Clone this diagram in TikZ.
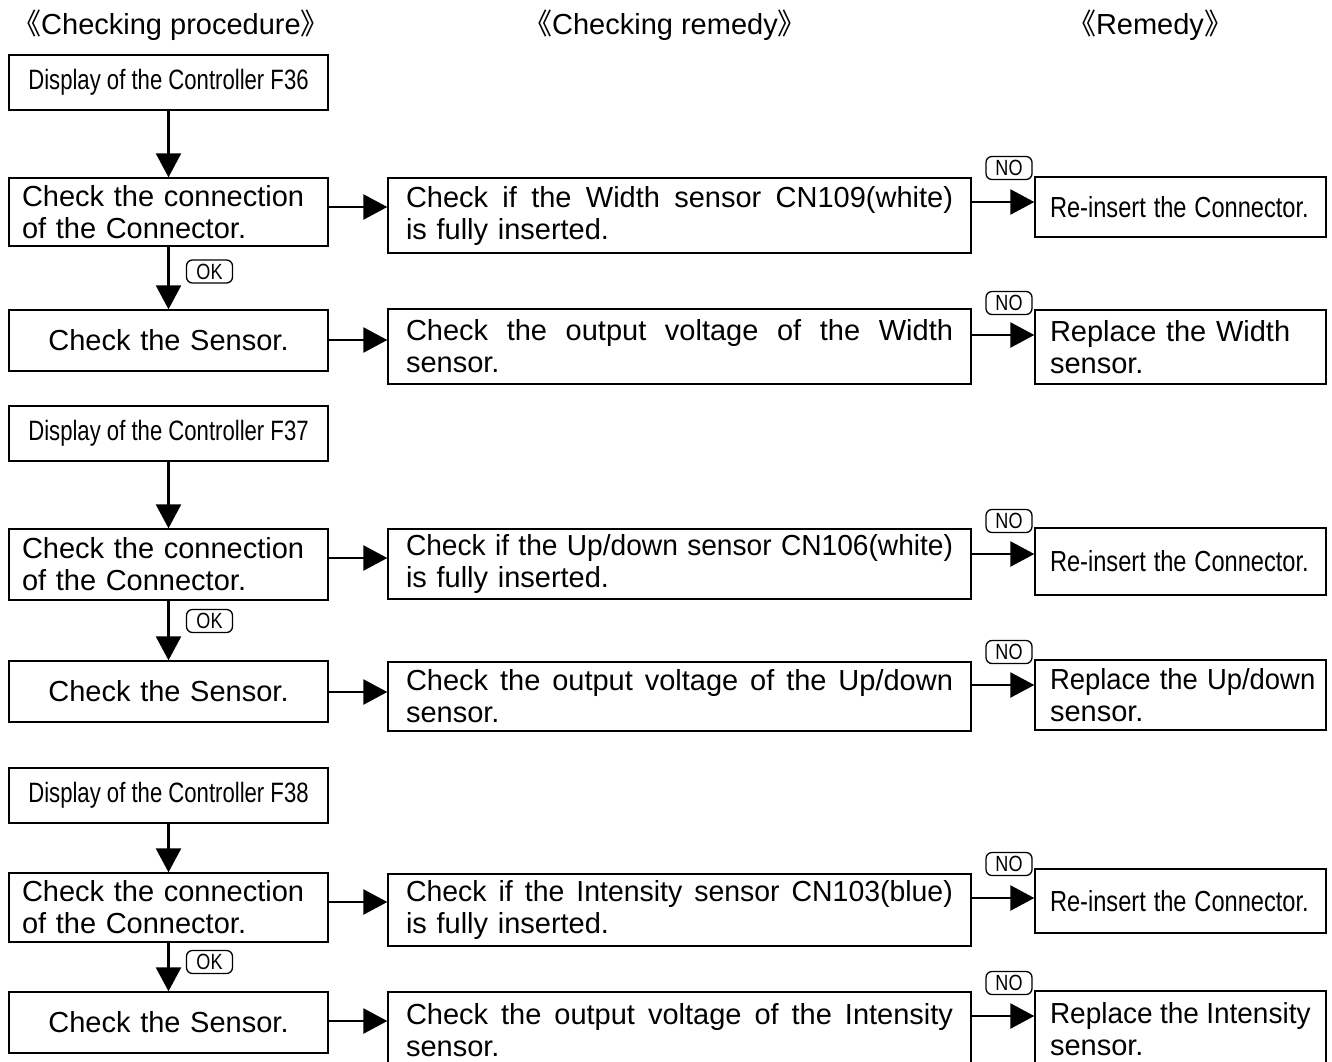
\documentclass[tikz,border=0pt]{standalone}
\usepackage{fontspec}
\setmainfont{Liberation Sans}
\newfontfamily\cjk{Noto Sans CJK SC}
\usetikzlibrary{arrows.meta}
\newcommand\fsz{\fontsize{29}{32}\selectfont}
\newcommand\fsn{\fontsize{28}{32}\selectfont}
\newcommand\narrowtxt[2]{\scalebox{#1}[1]{#2}}
\newcommand\jline[2]{{\spaceskip=0.278em plus 1fil minus 0.25em\relax\hbox to #1{#2}}}
\newcommand\tagtxt[1]{\scalebox{0.82}[1]{#1}}
\tikzset{
  c1box/.style={draw, line width=1.4pt, inner sep=0pt, minimum width=319pt, text width=293pt, align=left, font=\fsz},
  sensbox/.style={c1box, align=center},
  dispbox/.style={draw, line width=2.6pt, inner sep=0pt, minimum width=319pt, minimum height=55pt, align=center, font=\fsn},
  c2box/.style={draw, line width=1.4pt, inner sep=0pt, minimum width=583pt, text width=547pt, align=left, font=\fsz},
  c3box/.style={draw, line width=1.4pt, inner sep=0pt, minimum width=291pt, text width=261pt, align=left, font=\fsz},
  tag/.style={draw, line width=1.3pt, rounded corners=6pt, minimum width=46pt, minimum height=23pt, inner sep=0pt, font=\fontsize{22}{22}\selectfont},
  arr/.style={line width=2.6pt, -{Triangle[length=24pt,width=25pt]}},
  head/.style={font=\fsz, inner sep=0pt}
}
\begin{document}
\begin{tikzpicture}[x=1pt,y=-1pt]
\useasboundingbox[fill=white] (0,0) rectangle (1332,1061);

% headers
\node[head] (hd1) at (171,25) {{\cjk 《}Checking procedure{\cjk 》}};
\node[head] (hd2) at (665,25) {{\cjk 《}Checking remedy{\cjk 》}};
\node[head] (hd3) at (1150,25) {{\cjk 《}Remedy{\cjk 》}};

% ---------- block 1 ----------
\node[dispbox] (d1) at (168.5,82.5) {\narrowtxt{0.79}{Display of the Controller F36}};
\node[c1box, minimum height=68pt] (a1) at (168.5,212) {Check the connection\\of the Connector.};
\node[sensbox, minimum height=61pt] (s1) at (168.5,340.5) {Check the Sensor.};
\node[c2box, minimum height=75pt] (b1) at (679.5,215.5) {\jline{547pt}{Check if the Width sensor CN109(white)}\\is fully inserted.};
\node[c2box, minimum height=75pt] (c1) at (679.5,346.5) {\jline{547pt}{Check the output voltage of the Width}\\sensor.};
\node[c3box, minimum height=60pt] (r1) at (1180.5,207) {\narrowtxt{0.815}{Re-insert the Connector.}};
\node[c3box, minimum height=74pt] (p1) at (1180.5,347) {Replace the Width\\sensor.};
\node[tag] (no1) at (1009,168) {\tagtxt{NO}};
\node[tag] (no2) at (1009,303) {\tagtxt{NO}};
\node[tag] (ok1) at (209.5,271.5) {\tagtxt{OK}};
\coordinate (h1) at (0,207);
\coordinate (h2) at (0,340);
\coordinate (h3) at (0,202);
\coordinate (h4) at (0,335);
\draw[arr] (d1.south) -- (a1.north);
\draw[arr] (a1.south) -- (s1.north);
\draw[arr] (a1.east |- h1) -- (b1.west |- h1);
\draw[arr] (s1.east |- h2) -- (c1.west |- h2);
\draw[arr] (b1.east |- h3) -- (r1.west |- h3);
\draw[arr] (c1.east |- h4) -- (p1.west |- h4);

% ---------- block 2 ----------
\node[dispbox] (d2) at (168.5,433.5) {\narrowtxt{0.79}{Display of the Controller F37}};
\node[c1box, minimum height=71pt] (a2) at (168.5,564.5) {Check the connection\\of the Connector.};
\node[sensbox, minimum height=61pt] (s2) at (168.5,691.5) {Check the Sensor.};
\node[c2box, minimum height=70pt] (b2) at (679.5,564) {\narrowtxt{0.97}{\jline{564pt}{Check if the Up/down sensor CN106(white)}}\\is fully inserted.};
\node[c2box, minimum height=69pt] (c2) at (679.5,696.5) {\jline{547pt}{Check the output voltage of the Up/down}\\sensor.};
\node[c3box, minimum height=67pt] (r2) at (1180.5,561.5) {\narrowtxt{0.815}{Re-insert the Connector.}};
\node[c3box, minimum height=70pt] (p2) at (1180.5,695) {\narrowtxt{0.946}{Replace the Up/down}\\sensor.};
\node[tag] (no3) at (1009,521) {\tagtxt{NO}};
\node[tag] (no4) at (1009,652) {\tagtxt{NO}};
\node[tag] (ok2) at (209.5,621) {\tagtxt{OK}};
\coordinate (h5) at (0,558);
\coordinate (h6) at (0,692);
\coordinate (h7) at (0,554);
\coordinate (h8) at (0,685);
\draw[arr] (d2.south) -- (a2.north);
\draw[arr] (a2.south) -- (s2.north);
\draw[arr] (a2.east |- h5) -- (b2.west |- h5);
\draw[arr] (s2.east |- h6) -- (c2.west |- h6);
\draw[arr] (b2.east |- h7) -- (r2.west |- h7);
\draw[arr] (c2.east |- h8) -- (p2.west |- h8);

% ---------- block 3 ----------
\node[dispbox] (d3) at (168.5,795.5) {\narrowtxt{0.79}{Display of the Controller F38}};
\node[c1box, minimum height=69pt] (a3) at (168.5,907.5) {Check the connection\\of the Connector.};
\node[sensbox, minimum height=61pt] (s3) at (168.5,1022.5) {Check the Sensor.};
\node[c2box, minimum height=72pt] (b3) at (679.5,910) {\narrowtxt{0.98}{\jline{558pt}{Check if the Intensity sensor CN103(blue)}}\\is fully inserted.};
\node[c2box, minimum height=76pt] (c3) at (679.5,1030) {\jline{547pt}{Check the output voltage of the Intensity}\\sensor.};
\node[c3box, minimum height=64pt] (r3) at (1180.5,901) {\narrowtxt{0.815}{Re-insert the Connector.}};
\node[c3box, minimum height=77pt] (p3) at (1180.5,1029.5) {\narrowtxt{0.965}{\jline{270pt}{Replace the Intensity}}\\sensor.};
\node[tag] (no5) at (1009,864) {\tagtxt{NO}};
\node[tag] (no6) at (1009,983) {\tagtxt{NO}};
\node[tag] (ok3) at (209.5,962) {\tagtxt{OK}};
\coordinate (h9) at (0,902);
\coordinate (h10) at (0,1021);
\coordinate (h11) at (0,898);
\coordinate (h12) at (0,1016);
\draw[arr] (d3.south) -- (a3.north);
\draw[arr] (a3.south) -- (s3.north);
\draw[arr] (a3.east |- h9) -- (b3.west |- h9);
\draw[arr] (s3.east |- h10) -- (c3.west |- h10);
\draw[arr] (b3.east |- h11) -- (r3.west |- h11);
\draw[arr] (c3.east |- h12) -- (p3.west |- h12);
\end{tikzpicture}
\end{document}
